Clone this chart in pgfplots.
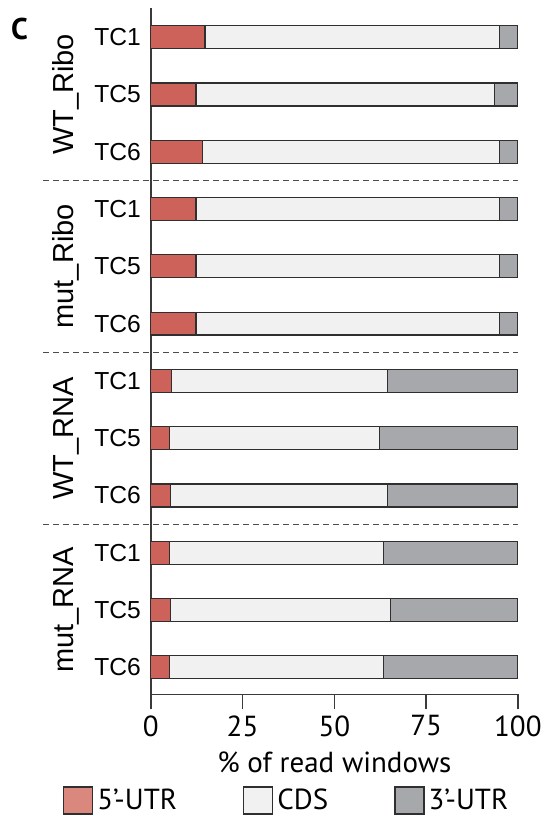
\documentclass[border=0pt]{standalone}
\usepackage{pgfplots}
\usepackage{pgfplotstable}
\usepackage{fontspec}
\pgfplotsset{compat=1.18}
\setmainfont{PT Sans}
\newfontfamily\arialfont{Liberation Sans}

\definecolor{utrfive}{HTML}{CD625B}
\definecolor{utrfivelegend}{HTML}{DA877D}
\definecolor{cds}{HTML}{F1F1F1}
\definecolor{utrthree}{HTML}{A7A8AB}
\definecolor{edge}{HTML}{2F2F2F}
\definecolor{axisgray}{HTML}{3A3A3A}

% rows from bottom (0) to top (11): mut_RNA, WT_RNA, mut_Ribo, WT_Ribo
\pgfplotstableread{
y  utr5  cds   utr3
11 14.8  80.2  5.0
10 12.3  81.3  6.4
9  14.1  80.8  5.1
8  12.3  82.6  5.1
7  12.3  82.6  5.1
6  12.3  82.6  5.1
5  5.7   58.8  35.5
4  5.1   57.3  37.6
3  5.3   59.2  35.5
2  5.1   58.4  36.5
1  5.3   60.1  34.6
0  5.1   58.4  36.5
}\regions

\tikzset{sep/.style={dash pattern=on 3pt off 2pt, line width=0.5pt, draw=black!70},
  grp/.style={rotate=90, font=\arialfont\fontsize{14.5}{16}\selectfont, inner sep=0pt}}

\begin{document}
\begin{tikzpicture}
\begin{axis}[
  scale only axis,
  width=183.5pt, height=343pt,
  xbar stacked, bar width=0.4,
  xmin=0, xmax=100, ymin=-0.47, ymax=11.51,
  axis x line*=bottom, axis y line*=left,
  axis line style={line width=0.75pt, draw=axisgray},
  tick align=outside,
  major tick length=7.5pt,
  xtick={0,25,50,75,100},
  xtick style={line width=0.75pt, draw=axisgray},
  ytick={0,...,11},
  yticklabels={TC6,TC5,TC1,TC6,TC5,TC1,TC6,TC5,TC1,TC6,TC5,TC1},
  ytick style={draw=none},
  yticklabel style={font=\arialfont\fontsize{12.3}{14}\selectfont, inner sep=0pt, xshift=2.7pt},
  xticklabel style={font=\fontsize{14.5}{16}\selectfont, inner sep=1pt, yshift=-2pt},
  /pgf/number format/assume math mode=true,
  xlabel={\% of read windows},
  xlabel style={font=\fontsize{14.5}{16}\selectfont, inner sep=0pt, yshift=-6.5pt},
  legend columns=3,
  legend style={draw=none, fill=none, inner sep=0pt,
    at={(rel axis cs:0,0)}, anchor=north west, xshift=-44pt, yshift=-45pt,
    font=\fontsize{14.5}{16}\selectfont,
    /tikz/every even column/.append style={column sep=31pt}},
  legend image code/.code={\draw[#1] (0pt,-6.75pt) rectangle (14.5pt,6.75pt);},
  clip=false,
]
\addplot[fill=utrfive, draw=edge, line width=0.6pt, forget plot] table[x=utr5, y=y] {\regions};
\addplot[fill=cds, draw=edge, line width=0.6pt, forget plot] table[x=cds, y=y] {\regions};
\addplot[fill=utrthree, draw=edge, line width=0.6pt, forget plot] table[x=utr3, y=y] {\regions};

\addlegendimage{fill=utrfivelegend, draw=edge, line width=0.6pt}
\addlegendentry{5’-UTR}
\addlegendimage{fill=cds, draw=edge, line width=0.6pt}
\addlegendentry{CDS}
\addlegendimage{fill=utrthree, draw=edge, line width=0.6pt}
\addlegendentry{3’-UTR}

% group separators
\draw[sep] ([xshift=-53.9pt]axis cs:0,2.5) -- (axis cs:100,2.5);
\draw[sep] ([xshift=-53.9pt]axis cs:0,5.5) -- (axis cs:100,5.5);
\draw[sep] ([xshift=-53.9pt]axis cs:0,8.5) -- (axis cs:100,8.5);

% group names
\node[grp] at ([xshift=-42.4pt]axis cs:0,10) {WT\_Ribo};
\node[grp] at ([xshift=-42.4pt]axis cs:0,7) {mut\_Ribo};
\node[grp] at ([xshift=-42.4pt]axis cs:0,4) {WT\_RNA};
\node[grp] at ([xshift=-42.4pt]axis cs:0,1) {mut\_RNA};

\node[font=\bfseries\fontsize{15}{17}\selectfont, inner sep=0pt]
  at ([xshift=-65.6pt, yshift=-10.25pt]rel axis cs:0,1) {C};

\coordinate (O) at (rel axis cs:0,0);
\coordinate (T) at (rel axis cs:1,1);
\end{axis}
\pgfresetboundingbox
\path[use as bounding box] ([shift={(-75.35pt,-60.85pt)}]O) rectangle ([shift={(14.65pt,4pt)}]T);
\end{tikzpicture}
\end{document}
